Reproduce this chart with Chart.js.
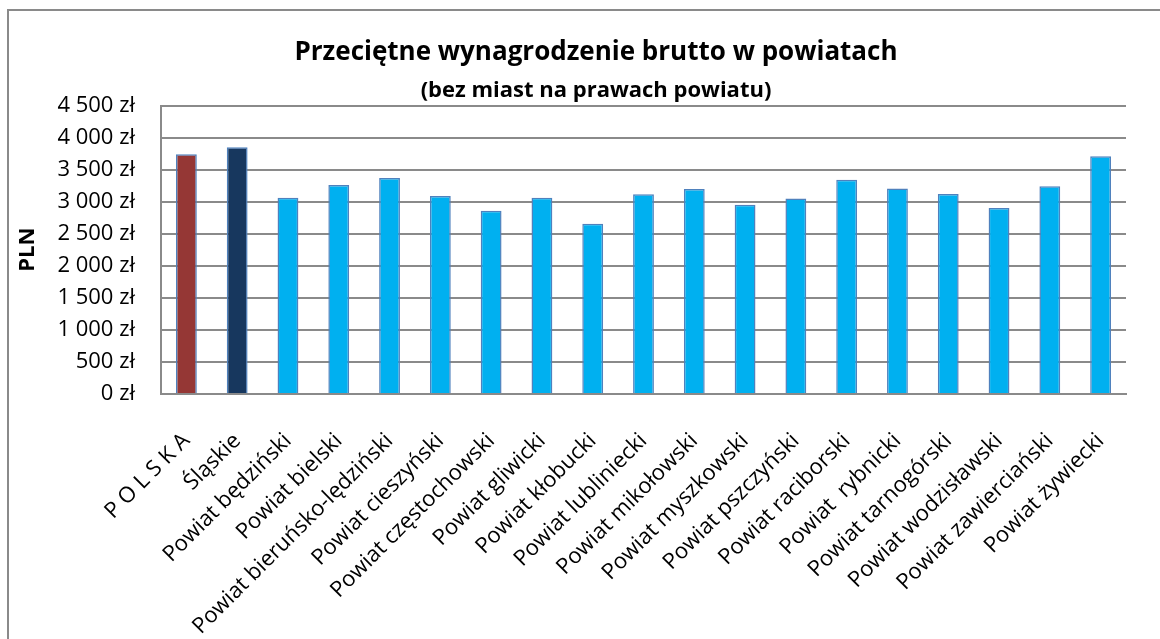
<!DOCTYPE html>
<html>
<head>
<meta charset="utf-8">
<script src="https://cdn.jsdelivr.net/npm/chart.js@4.4.1/dist/chart.umd.min.js"></script>
<style>
  html, body { margin: 0; padding: 0; background: #ffffff; overflow: hidden; }
  #frame { position: absolute; left: 7px; top: 9px; width: 1200px; height: 700px;
           border-left: 2px solid #8a8a8a; border-top: 2px solid #8a8a8a; }
  #wrap { position: absolute; left: 0; top: 0; width: 1160px; height: 639px; }
</style>
</head>
<body>
<div id="frame"></div>
<div id="wrap"><canvas id="c" width="1160" height="639"></canvas></div>
<script>
const categories = [
  'P O L S K A', 'Śląskie', 'Powiat będziński', 'Powiat bielski',
  'Powiat bieruńsko-lędziński', 'Powiat cieszyński', 'Powiat częstochowski',
  'Powiat gliwicki', 'Powiat kłobucki', 'Powiat lubliniecki', 'Powiat mikołowski',
  'Powiat myszkowski', 'Powiat pszczyński', 'Powiat raciborski', 'Powiat  rybnicki',
  'Powiat tarnogórski', 'Powiat wodzisławski', 'Powiat zawierciański', 'Powiat żywiecki'
];
const wages = [3740, 3850, 3062, 3260, 3370, 3089, 2859, 3062, 2656, 3115,
               3198, 2953, 3052, 3344, 3208, 3120, 2901, 3240, 3708];
const barColors = ['#953735', '#17375E', '#00B0F0', '#00B0F0', '#00B0F0', '#00B0F0',
                   '#00B0F0', '#00B0F0', '#00B0F0', '#00B0F0', '#00B0F0', '#00B0F0',
                   '#00B0F0', '#00B0F0', '#00B0F0', '#00B0F0', '#00B0F0', '#00B0F0', '#00B0F0'];
const yMin = 0, yMax = 4500, yStep = 500;
const titleText = 'Przeciętne wynagrodzenie brutto w powiatach';
const subtitleText = '(bez miast na prawach powiatu)';
const yAxisTitle = 'PLN';

function formatZl(v) {
  return String(v).replace(/\B(?=(\d{3})+(?!\d))/g, ' ') + ' zł';
}

const shiftTitles = {
  id: 'shiftTitles',
  afterLayout(chart) {
    chart.boxes.forEach(b => {
      if (b.options && b.options.text !== undefined && b.position === 'top') {
        b.left += 33; b.right += 33;
      }
    });
  }
};

const FONT = "'Open Sans', 'Liberation Sans', sans-serif";

new Chart(document.getElementById('c'), {
  type: 'bar',
  data: {
    labels: categories,
    datasets: [{
      data: wages,
      backgroundColor: barColors,
      borderColor: '#4F81BD',
      borderWidth: 1.5,
      barPercentage: 0.41,
      categoryPercentage: 1.0
    }]
  },
  plugins: [shiftTitles],
  options: {
    responsive: false,
    animation: false,
    devicePixelRatio: 1,
    layout: { padding: { left: 0, right: 34, top: 0, bottom: 0 } },
    plugins: {
      legend: { display: false },
      tooltip: { enabled: false },
      title: {
        display: true, text: titleText, color: '#000',
        font: { family: FONT, size: 26, weight: 'bold' },
        padding: { top: 37, bottom: 0 }
      },
      subtitle: {
        display: true, text: subtitleText, color: '#000',
        font: { family: FONT, size: 22, weight: 'bold' },
        padding: { top: 9, bottom: 2 }
      }
    },
    scales: {
      x: {
        grid: { display: false, drawTicks: false },
        border: { display: true, color: '#8a8a8a', width: 2 },
        ticks: {
          color: '#000', font: { family: FONT, size: 22 },
          maxRotation: 45, minRotation: 45, autoSkip: false,
          padding: 34, labelOffset: 0
        },
        afterFit(scale) { scale.height = 245; scale.paddingLeft = 0; scale.paddingRight = 0; }
      },
      y: {
        min: yMin, max: yMax,
        ticks: {
          stepSize: yStep, color: '#000', padding: 26,
          font: { family: FONT, size: 22 },
          callback: (v) => formatZl(v)
        },
        grid: { color: '#8a8a8a', lineWidth: 2, drawTicks: false },
        border: { display: true, color: '#8a8a8a', width: 2 },
        title: {
          display: true, text: yAxisTitle, color: '#000',
          font: { family: FONT, size: 22, weight: 'bold' },
          padding: { top: 15, bottom: 0 }
        },
        afterFit(scale) { scale.width = 161; }
      }
    }
  }
});
</script>
</body>
</html>
